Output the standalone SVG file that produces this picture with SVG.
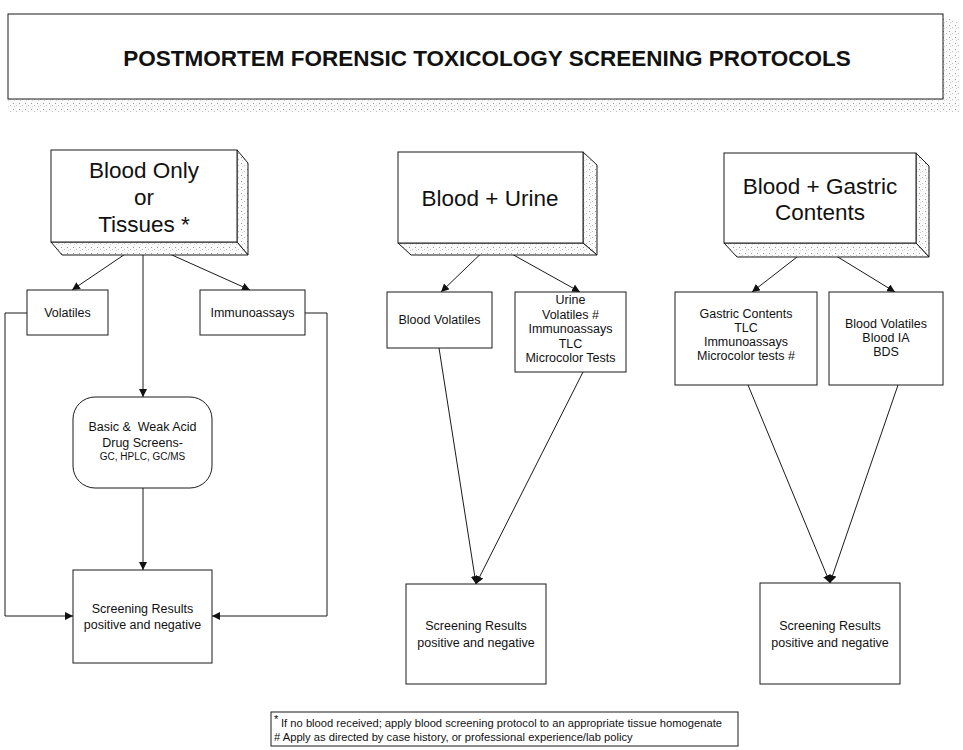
<svg xmlns="http://www.w3.org/2000/svg" width="963" height="750" viewBox="0 0 963 750">
<style>
  .bx{fill:#fff;stroke:#1a1a1a;stroke-width:1}
  .sh{fill:url(#stip);stroke:#1a1a1a;stroke-width:1}
  .big{font-family:"Liberation Sans",Arial,sans-serif;font-size:22.5px;fill:#111;text-anchor:middle}
  .sm{font-family:"Liberation Sans",Arial,sans-serif;font-size:12.5px;fill:#111;text-anchor:middle}
  .xs{font-family:"Liberation Sans",Arial,sans-serif;font-size:10px;fill:#111;text-anchor:middle}
  .fn{font-family:"Liberation Sans",Arial,sans-serif;font-size:11.2px;fill:#111}
  .title{font-family:"Liberation Sans",Arial,sans-serif;font-size:22.5px;font-weight:bold;fill:#111;text-anchor:middle}
  .ln{fill:none;stroke:#1a1a1a;stroke-width:1}
  .ar{fill:none;stroke:#1a1a1a;stroke-width:1;marker-end:url(#arr)}
</style>
<defs>
  <pattern id="stip" width="6" height="6" patternUnits="userSpaceOnUse">
    <rect width="6" height="6" fill="#fafafa"/>
    <rect x="1" y="1" width="1" height="1" fill="#9a9a9a"/>
    <rect x="4" y="3" width="1" height="1" fill="#bdbdbd"/>
    <rect x="2" y="4" width="1" height="1" fill="#cfcfcf"/>
  </pattern>
  <marker id="arr" viewBox="0 0 10 10" refX="10" refY="5" markerWidth="8" markerHeight="8" markerUnits="userSpaceOnUse" orient="auto">
    <path d="M0,0 L10,5 L0,10 z" fill="#111"/>
  </marker>
</defs>

<g id="title">
  <polygon points="8,99 943,99 943,17 960,22 960,112 8,112" fill="url(#stip)" stroke="none"/>
  <rect class="bx" x="8" y="14" width="935" height="85"/>
  <text class="title" x="487" y="66">POSTMORTEM FORENSIC TOXICOLOGY SCREENING PROTOCOLS</text>
</g>

<g id="connectors">
  <!-- column 1 -->
  <line class="ar" x1="143" y1="242" x2="72" y2="290"/>
  <line class="ar" x1="143" y1="242" x2="250" y2="290"/>
  <line class="ar" x1="143" y1="242" x2="143" y2="397"/>
  <line class="ar" x1="143" y1="488" x2="143" y2="570"/>
  <polyline class="ar" points="27,313 5,313 5,616 73,616"/>
  <polyline class="ar" points="305,313 327,313 327,616 212,616"/>
  <!-- column 2 -->
  <line class="ar" x1="492" y1="243" x2="441" y2="292"/>
  <line class="ar" x1="492" y1="243" x2="580" y2="292"/>
  <line class="ar" x1="439" y1="348" x2="476" y2="584"/>
  <line class="ar" x1="583" y1="372" x2="476" y2="584"/>
  <!-- column 3 -->
  <line class="ar" x1="815" y1="243" x2="752" y2="292"/>
  <line class="ar" x1="815" y1="243" x2="895" y2="292"/>
  <line class="ar" x1="748" y1="385" x2="830" y2="583"/>
  <line class="ar" x1="898" y1="385" x2="830" y2="583"/>
</g>

<g id="blood-only">
  <polygon class="sh" points="237,150 248,163 248,255 237,242"/>
  <polygon class="sh" points="51,242 62,255 248,255 237,242"/>
  <rect class="bx" x="51" y="150" width="186" height="92"/>
  <text class="big" x="144" y="178">Blood Only</text>
  <text class="big" x="144" y="205">or</text>
  <text class="big" x="144" y="232">Tissues *</text>
</g>

<g id="volatiles">
  <rect class="bx" x="27" y="290" width="81" height="45"/>
  <text class="sm" x="67.5" y="317">Volatiles</text>
</g>

<g id="immunoassays">
  <rect class="bx" x="200" y="290" width="105" height="45"/>
  <text class="sm" x="252.5" y="317">Immunoassays</text>
</g>

<g id="basic-weak-acid">
  <rect class="bx" x="73" y="397" width="139" height="91" rx="22" ry="22"/>
  <text class="sm" x="142.5" y="431" xml:space="preserve">Basic &amp;  Weak Acid</text>
  <text class="sm" x="142.5" y="447">Drug Screens-</text>
  <text class="xs" x="142.5" y="460">GC, HPLC, GC/MS</text>
</g>

<g id="results-1">
  <rect class="bx" x="73" y="570" width="139" height="93"/>
  <text class="sm" x="142.5" y="613">Screening Results</text>
  <text class="sm" x="142.5" y="629">positive and negative</text>
</g>

<g id="blood-urine">
  <polygon class="sh" points="583,152 597,165 597,255 583,243"/>
  <polygon class="sh" points="398,243 411,255 597,255 583,243"/>
  <rect class="bx" x="398" y="152" width="185" height="91"/>
  <text class="big" x="490" y="206">Blood + Urine</text>
</g>

<g id="blood-volatiles-2">
  <rect class="bx" x="387" y="292" width="105" height="56"/>
  <text class="sm" x="439.5" y="324">Blood Volatiles</text>
</g>

<g id="urine">
  <rect class="bx" x="515" y="292" width="111" height="80"/>
  <text class="sm" x="570.5" y="304">Urine</text>
  <text class="sm" x="570.5" y="319">Volatiles #</text>
  <text class="sm" x="570.5" y="333">Immunoassays</text>
  <text class="sm" x="570.5" y="348">TLC</text>
  <text class="sm" x="570.5" y="362">Microcolor Tests</text>
</g>

<g id="results-2">
  <rect class="bx" x="406" y="584" width="140" height="100"/>
  <text class="sm" x="476" y="630">Screening Results</text>
  <text class="sm" x="476" y="647">positive and negative</text>
</g>

<g id="blood-gastric">
  <polygon class="sh" points="916,153 929,166 929,257 916,243"/>
  <polygon class="sh" points="724,243 737,257 929,257 916,243"/>
  <rect class="bx" x="724" y="153" width="192" height="90"/>
  <text class="big" x="820" y="194">Blood + Gastric</text>
  <text class="big" x="820" y="220">Contents</text>
</g>

<g id="gastric-contents">
  <rect class="bx" x="675" y="292" width="142" height="93"/>
  <text class="sm" x="746" y="318">Gastric Contents</text>
  <text class="sm" x="746" y="332">TLC</text>
  <text class="sm" x="746" y="346">Immunoassays</text>
  <text class="sm" x="746" y="360">Microcolor tests #</text>
</g>

<g id="blood-ia-bds">
  <rect class="bx" x="829" y="292" width="114" height="93"/>
  <text class="sm" x="886" y="328">Blood Volatiles</text>
  <text class="sm" x="886" y="342">Blood IA</text>
  <text class="sm" x="886" y="356">BDS</text>
</g>

<g id="results-3">
  <rect class="bx" x="760" y="583" width="140" height="101"/>
  <text class="sm" x="830" y="630">Screening Results</text>
  <text class="sm" x="830" y="647">positive and negative</text>
</g>

<g id="footnote">
  <rect class="bx" x="271" y="712" width="467" height="34"/>
  <text class="fn" x="274" y="723">*</text>
  <text class="fn" x="281" y="727">If no blood received; apply blood screening protocol to an appropriate tissue homogenate</text>
  <text class="fn" x="274" y="741">#  Apply as directed by case history, or professional experience/lab policy</text>
</g>
</svg>
